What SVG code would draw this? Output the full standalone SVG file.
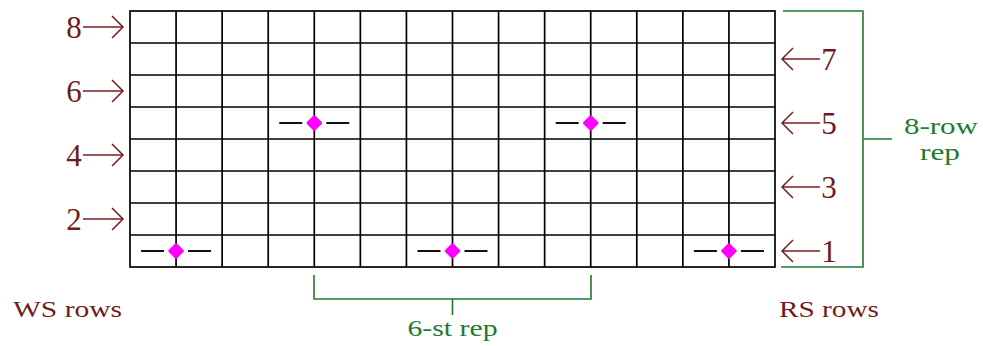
<svg xmlns="http://www.w3.org/2000/svg" width="983" height="346" viewBox="0 0 983 346">
<defs>
<style>
.grid{stroke:#000;stroke-width:1.7;fill:none}
.num{font-family:"Liberation Serif","DejaVu Serif",serif;font-size:31px;fill:#6e1c1c;text-anchor:middle}
.lbl{font-family:"Liberation Serif","DejaVu Serif",serif;font-size:24px;fill:#6e1c1c}
.glbl{font-family:"Liberation Serif","DejaVu Serif",serif;font-size:23px;fill:#227a30;text-anchor:middle}
.arr{stroke:#7a1e1e;stroke-width:1.5;fill:none}
.brk{stroke:#227a30;stroke-width:1.6;fill:none}
.dash{stroke:#111;stroke-width:1.8}
.dot{fill:#ff00ff;stroke:#ff00ff;stroke-width:2.5;stroke-linejoin:round}
</style>
<g id="rowarrowR"><path class="arr" d="M782,0 H820 M793,-11 L782,0 L793,11"/></g>
<g id="rowarrowL"><path class="arr" d="M83,0 H123 M112,-11 L123,0 L112,11"/></g>
<g id="stitch"><path class="dash" d="M-35,0 H-12 M12,0 H35"/><polygon class="dot" points="0,-6.5 6.5,0 0,6.5 -6.5,0"/></g>
</defs>
<rect width="983" height="346" fill="#fff"/>
<g id="chart">
<rect class="grid" x="130" y="11" width="645" height="256"/>
<path class="grid" d="M176.07,11V267 M222.14,11V267 M268.21,11V267 M314.29,11V267 M360.36,11V267 M406.43,11V267 M452.5,11V267 M498.57,11V267 M544.64,11V267 M590.71,11V267 M636.79,11V267 M682.86,11V267 M728.93,11V267 M130,43H775 M130,75H775 M130,107H775 M130,139H775 M130,171H775 M130,203H775 M130,235H775"/>
</g>
<g id="stitches">
<use href="#stitch" x="176.07" y="251"/>
<use href="#stitch" x="452.5" y="251"/>
<use href="#stitch" x="728.93" y="251"/>
<use href="#stitch" x="314.29" y="123"/>
<use href="#stitch" x="590.71" y="123"/>
</g>
<g id="connectors">
<use href="#rowarrowL" y="27"/>
<use href="#rowarrowL" y="91"/>
<use href="#rowarrowL" y="155"/>
<use href="#rowarrowL" y="219"/>
<use href="#rowarrowR" y="59"/>
<use href="#rowarrowR" y="123"/>
<use href="#rowarrowR" y="187"/>
<use href="#rowarrowR" y="251"/>
<path class="brk" d="M783,11H863V267H781 M863,139H892"/>
<path class="brk" d="M314,275V299H591V275 M452.5,299V315"/>
</g>
<g id="row-numbers-ws">
<text class="num" x="74" y="38">8</text>
<text class="num" x="74" y="102">6</text>
<text class="num" x="74" y="166">4</text>
<text class="num" x="74" y="230">2</text>
</g>
<g id="row-numbers-rs">
<text class="num" x="829" y="70">7</text>
<text class="num" x="829" y="134">5</text>
<text class="num" x="829" y="198">3</text>
<text class="num" x="829" y="262">1</text>
</g>
<g id="label-ws"><text class="lbl" x="13" y="317" textLength="109" lengthAdjust="spacingAndGlyphs">WS rows</text></g>
<g id="label-rs"><text class="lbl" x="779" y="317" textLength="100" lengthAdjust="spacingAndGlyphs">RS rows</text></g>
<g id="label-8row">
<text class="glbl" x="941" y="134" textLength="74" lengthAdjust="spacingAndGlyphs">8-row</text>
<text class="glbl" x="940" y="160" textLength="40" lengthAdjust="spacingAndGlyphs">rep</text>
</g>
<g id="label-6st"><text class="glbl" x="452.5" y="336" textLength="90" lengthAdjust="spacingAndGlyphs">6-st rep</text></g>
</svg>
